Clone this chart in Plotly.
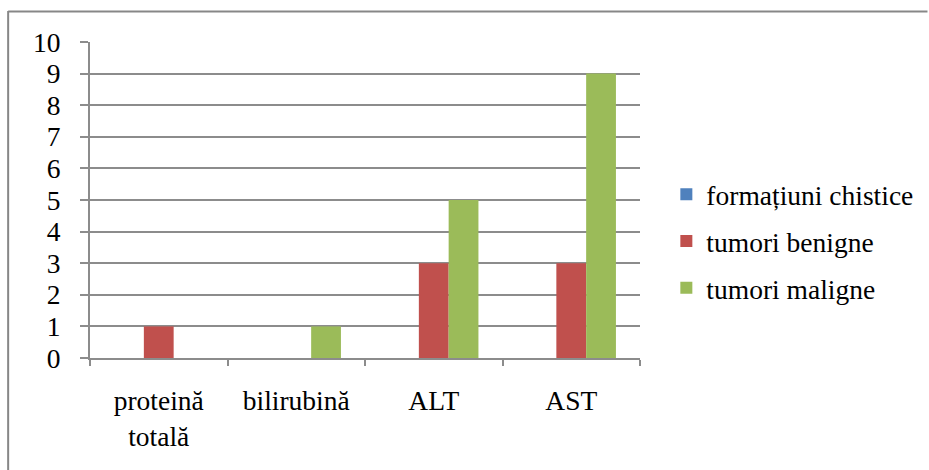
import plotly.graph_objects as go

categories = ["proteină<br>totală", "bilirubină", "ALT", "AST"]
series_names = ["formațiuni chistice", "tumori benigne", "tumori maligne"]
formatiuni_chistice = [0, 0, 0, 0]
tumori_benigne = [1, 0, 3, 3]
tumori_maligne = [0, 1, 5, 9]
y_ticks = list(range(0, 11))

colors = ["#4F81BD", "#C0504D", "#9BBB59"]
values = [formatiuni_chistice, tumori_benigne, tumori_maligne]

FONT = "Times New Roman"
FS = 27.5
GRID = "#8C8C8C"

fig = go.Figure()
for i, (name, vals) in enumerate(zip(series_names, values)):
    fig.add_trace(go.Bar(
        x=categories, y=vals, name=name,
        marker=dict(color=colors[i], line=dict(width=0)),
        legendgroup=f"g{i}",
    ))

fig.update_layout(
    width=929, height=470,
    margin=dict(l=90, r=288, t=42, b=112),
    paper_bgcolor="white", plot_bgcolor="white",
    barmode="group", bargap=0.35, bargroupgap=0,
    font=dict(family=FONT, size=FS, color="black"),
    showlegend=True,
    legend=dict(
        x=1.046, xanchor="left", y=0.595, yanchor="top",
        traceorder="grouped", tracegroupgap=8,
        font=dict(family=FONT, size=FS, color="black"),
        bgcolor="rgba(0,0,0,0)", borderwidth=0,
    ),
    xaxis=dict(
        showline=True, linecolor=GRID, linewidth=2,
        ticks="outside", tickson="boundaries", ticklen=6, tickwidth=2, tickcolor=GRID,
        showgrid=False, ticklabelstandoff=17,
        tickfont=dict(family=FONT, size=FS, color="black"),
    ),
    yaxis=dict(
        range=[0, 10], tickvals=y_ticks, ticktext=[str(v) for v in y_ticks],
        showline=True, linecolor=GRID, linewidth=2,
        ticks="outside", ticklen=8, tickwidth=2, tickcolor=GRID,
        showgrid=True, gridcolor=GRID, gridwidth=2,
        zeroline=False, ticklabelstandoff=14,
        tickfont=dict(family=FONT, size=FS, color="black"),
    ),
    shapes=[
        dict(type="line", xref="paper", yref="paper",
             x0=(8 - 90) / 551, x1=(929 - 90) / 551,
             y0=(470 - 112 - 11.5) / 316, y1=(470 - 112 - 11.5) / 316,
             line=dict(color="#878787", width=2)),
        dict(type="line", xref="paper", yref="paper",
             x0=(8 - 90) / 551, x1=(8 - 90) / 551,
             y0=(470 - 112 - 11) / 316, y1=(470 - 112 - 475) / 316,
             line=dict(color="#878787", width=2)),
    ],
)

fig.write_html("out.html", config={"displayModeBar": False},
               post_script="document.body.style.margin='0';")
